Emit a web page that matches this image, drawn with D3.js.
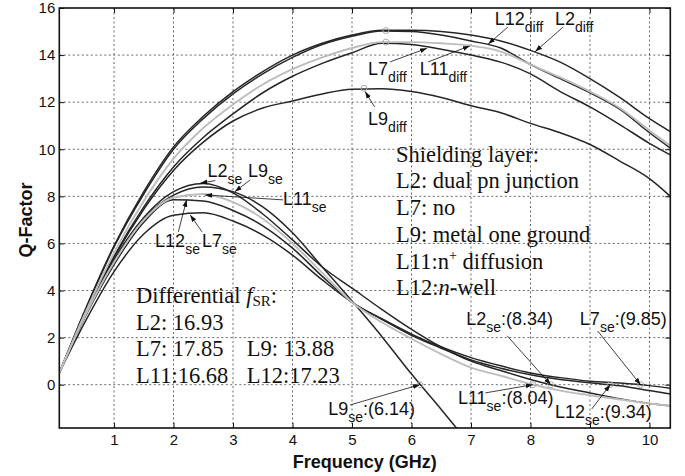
<!DOCTYPE html>
<html>
<head>
<meta charset="utf-8">
<script src="https://cdn.jsdelivr.net/npm/d3@7/dist/d3.min.js"></script>
<style>
body { margin: 0; background: #fff; }
svg text { font-family: "Liberation Sans", Arial, sans-serif; fill: #111; }
svg text.serif { font-family: "Liberation Serif", "Times New Roman", serif; }
</style>
</head>
<body>
<div id="chart"></div>
<script>
// Frequency samples (GHz) shared by every curve
var freq = [0.08, 0.5, 1, 1.5, 2, 2.5, 3, 3.5, 4, 4.5, 5, 5.5, 6, 6.5, 7, 7.5, 8, 8.5, 9, 9.5, 10, 10.35];

// Differential Q
var L2diff  = [0.5, 3.1, 5.9, 8.2, 10.1, 11.4, 12.45, 13.3, 14.0, 14.5, 14.85, 15.05, 15.05, 15.0, 14.85, 14.6, 14.2, 13.7, 13.0, 12.2, 11.3, 10.75];
var L12diff = [0.5, 3.05, 5.85, 8.1, 10.0, 11.3, 12.35, 13.2, 13.9, 14.45, 14.8, 15.02, 15.0, 14.85, 14.6, 14.3, 13.6, 13.0, 12.4, 11.7, 10.7, 10.05];
var L11diff = [0.5, 2.95, 5.6, 7.8, 9.6, 10.9, 11.9, 12.75, 13.4, 13.9, 14.3, 14.55, 14.55, 14.5, 14.4, 14.15, 13.6, 13.05, 12.45, 11.75, 10.8, 10.15];
var L7diff  = [0.5, 2.9, 5.45, 7.55, 9.25, 10.5, 11.5, 12.4, 13.1, 13.65, 14.1, 14.5, 14.45, 14.25, 14.0, 13.7, 13.2, 12.45, 11.8, 11.05, 10.25, 9.76];
var L9diff  = [0.5, 2.9, 5.4, 7.45, 9.1, 10.3, 11.2, 11.75, 12.05, 12.35, 12.55, 12.57, 12.45, 12.2, 11.85, 11.55, 11.1, 10.7, 10.2, 9.5, 8.75, 8.0];

// Single-ended Q
var L2se  = [0.5, 2.9, 5.3, 7.1, 8.2, 8.55, 8.15, 7.25, 6.15, 5.0, 4.1, 3.2, 2.35, 1.6, 1.0, 0.6, 0.22, -0.1, -0.35, -0.6, -0.8, -0.9];
var L9se  = [0.5, 2.9, 5.3, 7.05, 8.05, 8.4, 8.2, 7.55, 6.45, 5.0, 3.55, 2.05, 0.45, -1.05, -2.6, null, null, null, null, null, null, null];
var L11se = [0.5, 2.85, 5.2, 7.0, 7.95, 8.1, 7.75, 7.05, 6.0, 4.75, 3.5, 2.65, 1.95, 1.3, 0.72, 0.38, 0.03, -0.25, -0.45, -0.63, -0.8, -0.9];
var L12se = [0.5, 2.8, 5.1, 6.9, 7.85, 7.8, 7.4, 6.75, 5.8, 4.6, 3.5, 2.78, 2.1, 1.55, 1.05, 0.7, 0.42, 0.22, 0.08, -0.05, -0.25, -0.4];
var L7se  = [0.5, 2.6, 4.8, 6.4, 7.2, 7.3, 6.95, 6.35, 5.5, 4.45, 3.5, 2.8, 2.15, 1.6, 1.15, 0.8, 0.5, 0.3, 0.15, 0.07, -0.04, -0.15];

var grayCurves = ["L11diff", "L11se"];

// peak / crossing markers [f, Q]
var markerPts = [[5.57, 15.04], [5.57, 14.55], [5.2, 12.59], [8.04, 0], [8.34, 0], [9.34, 0], [9.85, 0], [6.14, 0]];

var xTicks = [1, 2, 3, 4, 5, 6, 7, 8, 9, 10];
var yTicks = [0, 2, 4, 6, 8, 10, 12, 14, 16];

// curve labels: name, subscript, suffix, text pos, arrow tail, arrow tip (all in f,Q)
var labels = [
    ["L12", "diff", "", [7.40, 15.28], [7.62, 15.19], [7.29, 14.47]],
    ["L2", "diff", "", [8.41, 15.28], [8.55, 15.19], [8.08, 14.15]],
    ["L7", "diff", "", [5.27, 13.16], [5.64, 13.71], [6.26, 14.29]],
    ["L11", "diff", "", [6.14, 13.16], [6.28, 13.71], [6.98, 14.39]],
    ["L9", "diff", "", [5.27, 11.03], [5.38, 11.8], [5.22, 12.45]],
    ["L2", "se", "", [2.57, 8.84], [2.70, 8.67], [2.45, 8.56]],
    ["L9", "se", "", [3.25, 8.84], [3.29, 8.7], [3.03, 8.2]],
    ["L11", "se", "", [3.84, 7.63], [3.84, 7.85], [2.53, 8.06]],
    ["L12", "se", "", [1.69, 5.86], [2.08, 6.49], [2.22, 7.85]],
    ["L7", "se", "", [2.48, 5.86], [2.48, 6.49], [2.28, 7.21]],
    ["L2", "se", ":(8.34)", [6.92, 2.54], [7.61, 2.07], [8.34, 0]],
    ["L7", "se", ":(9.85)", [8.83, 2.54], [9.13, 2.28], [9.85, 0]],
    ["L11", "se", ":(8.04)", [6.78, -0.82], [7.24, -0.35], [8.04, 0]],
    ["L12", "se", ":(9.34)", [8.41, -1.41], [9.03, -1.03], [9.34, 0]],
    ["L9", "se", ":(6.14)", [4.60, -1.29], [4.97, -0.86], [6.14, 0]]
];

var shieldLines = ["Shielding layer:", "L2: dual pn junction", "L7: no", "L9: metal one ground", "L11:", "L12:"];
var fsrLeft  = ["L2: 16.93", "L7: 17.85", "L11:16.68"];
var fsrRight = ["", "L9: 13.88", "L12:17.23"];

function qChart(){
    var width = 685;
    var height = 476;
    var left = 59.3, right = 670.3, top = 8, bottom = 428;

    function chart(selection){
        selection.each(function(){
            var svg = d3.select(this).append("svg").attr("width", width).attr("height", height);

            var x = d3.scaleLinear().domain([0.08, 10.35]).range([left, right]);
            var y = d3.scaleLinear().domain([-1.84, 16]).range([bottom, top]);

            svg.append("defs").append("clipPath").attr("id", "plotclip")
                .append("rect").attr("x", left).attr("y", top)
                .attr("width", right - left).attr("height", bottom - top);

            var arrow = svg.select("defs").append("marker")
                .attr("id", "arrowhead").attr("viewBox", "0 0 10 10")
                .attr("refX", 10).attr("refY", 5)
                .attr("markerWidth", 7).attr("markerHeight", 7)
                .attr("markerUnits", "userSpaceOnUse")
                .attr("orient", "auto");
            arrow.append("path").attr("d", "M0,1.5L10,5L0,8.5Z").attr("fill", "#111");

            // dotted grid
            var grid = svg.append("g").attr("stroke", "#444").attr("stroke-width", 0.8)
                .attr("stroke-dasharray", "2,2.5");
            grid.selectAll(".gx").data(xTicks).enter().append("line")
                .attr("x1", function(d){ return x(d); }).attr("x2", function(d){ return x(d); })
                .attr("y1", top).attr("y2", bottom);
            grid.selectAll(".gy").data(yTicks.filter(function(d){ return d < 16; })).enter().append("line")
                .attr("y1", function(d){ return y(d); }).attr("y2", function(d){ return y(d); })
                .attr("x1", left).attr("x2", right);

            // curves
            var line = d3.line()
                .defined(function(d){ return d[1] !== null; })
                .x(function(d){ return x(d[0]); })
                .y(function(d){ return y(d[1]); })
                .curve(d3.curveMonotoneX);

            var series = {L2diff: L2diff, L12diff: L12diff, L7diff: L7diff, L9diff: L9diff,
                          L2se: L2se, L9se: L9se, L12se: L12se, L7se: L7se,
                          L11diff: L11diff, L11se: L11se};
            var curves = svg.append("g").attr("clip-path", "url(#plotclip)").attr("fill", "none");
            Object.keys(series).forEach(function(k){
                var gray = grayCurves.indexOf(k) >= 0;
                curves.append("path")
                    .datum(freq.map(function(f, i){ return [f, series[k][i]]; }))
                    .attr("d", line)
                    .attr("stroke", gray ? "#bdbdbd" : "#262626")
                    .attr("stroke-width", gray ? 1.9 : 1.5);
            });

            curves.selectAll("circle").data(markerPts).enter().append("circle")
                .attr("cx", function(d){ return x(d[0]); })
                .attr("cy", function(d){ return y(d[1]); })
                .attr("r", 3).attr("stroke", "#aaa").attr("stroke-width", 1);

            // ticks (inward, all four sides) and tick labels
            svg.append("g").attr("transform", "translate(0," + bottom + ")")
                .call(d3.axisBottom(x).tickValues(xTicks).tickSizeInner(-5).tickSizeOuter(0).tickPadding(6))
                .call(styleAxis);
            svg.append("g").attr("transform", "translate(0," + top + ")")
                .call(d3.axisTop(x).tickValues(xTicks).tickSizeInner(-5).tickSizeOuter(0).tickFormat(""))
                .call(styleAxis);
            svg.append("g").attr("transform", "translate(" + left + ",0)")
                .call(d3.axisLeft(y).tickValues(yTicks).tickSizeInner(-5).tickSizeOuter(0).tickPadding(4))
                .call(styleAxis);
            svg.append("g").attr("transform", "translate(" + right + ",0)")
                .call(d3.axisRight(y).tickValues(yTicks).tickSizeInner(-5).tickSizeOuter(0).tickFormat(""))
                .call(styleAxis);

            svg.append("rect").attr("x", left).attr("y", top)
                .attr("width", right - left).attr("height", bottom - top)
                .attr("fill", "none").attr("stroke", "#111").attr("stroke-width", 1.6);

            // axis titles
            svg.append("text").attr("x", (left + right) / 2).attr("y", 467.5)
                .attr("text-anchor", "middle").attr("font-weight", "bold").attr("font-size", 18)
                .text("Frequency (GHz)");
            svg.append("text").attr("transform", "translate(32,220) rotate(-90)")
                .attr("text-anchor", "middle").attr("font-weight", "bold").attr("font-size", 18)
                .text("Q-Factor");

            // curve labels with arrows
            var ann = svg.append("g");
            labels.forEach(function(l){
                ann.append("line")
                    .attr("x1", x(l[4][0])).attr("y1", y(l[4][1]))
                    .attr("x2", x(l[5][0])).attr("y2", y(l[5][1]))
                    .attr("stroke", "#111").attr("stroke-width", 0.8)
                    .attr("marker-end", "url(#arrowhead)");
                var t = ann.append("text").attr("x", x(l[3][0])).attr("y", y(l[3][1]))
                    .attr("font-size", 18);
                t.append("tspan").text(l[0]);
                t.append("tspan").attr("font-size", 14).attr("dy", 7).text(l[1]);
                if (l[2]) t.append("tspan").attr("dy", -7).text(l[2]);
            });

            // legend block: shielding layers
            var sx = 396, sy = 161.7, lh = 26.7;
            var sh = svg.append("g");
            shieldLines.forEach(function(s, i){
                var t = sh.append("text").attr("class", "serif")
                    .attr("x", sx).attr("y", sy + i * lh).attr("font-size", 22.5).text(s);
                if (i === 4) {
                    t.append("tspan").text("n");
                    t.append("tspan").attr("font-size", 14).attr("dy", -9).text("+");
                    t.append("tspan").attr("dy", 9).text(" diffusion");
                }
                if (i === 5) {
                    t.append("tspan").attr("font-style", "italic").text("n");
                    t.append("tspan").text("-well");
                }
            });

            // legend block: differential self-resonance frequencies
            var fx = 136, fy = 303.3, fh = 26.4;
            var ft = svg.append("text").attr("class", "serif").attr("x", fx).attr("y", fy).attr("font-size", 22.5);
            ft.append("tspan").text("Differential ");
            ft.append("tspan").attr("font-style", "italic").text("f");
            ft.append("tspan").attr("font-size", 15).attr("dy", 3).text("SR");
            ft.append("tspan").attr("dy", -3).text(":");
            fsrLeft.forEach(function(s, i){
                svg.append("text").attr("class", "serif").attr("x", fx).attr("y", fy + (i + 1) * fh)
                    .attr("font-size", 22.5).text(s);
            });
            fsrRight.forEach(function(s, i){
                if (!s) return;
                svg.append("text").attr("class", "serif").attr("x", 246.7).attr("y", fy + (i + 1) * fh)
                    .attr("font-size", 22.5).text(s);
            });
        });
    }

    function styleAxis(g){
        g.select(".domain").remove();
        g.selectAll(".tick line").attr("stroke", "#111").attr("stroke-width", 1);
        g.selectAll(".tick text").attr("font-size", 15).attr("fill", "#111")
            .attr("font-family", "Liberation Sans, Arial, sans-serif");
    }

    chart.width = function(v){
        if(!arguments.length) return width;
        width = v;
        return chart;
    };

    chart.height = function(v){
        if(!arguments.length) return height;
        height = v;
        return chart;
    };

    return chart;
}

d3.select("#chart").call(qChart());
</script>
</body>
</html>
